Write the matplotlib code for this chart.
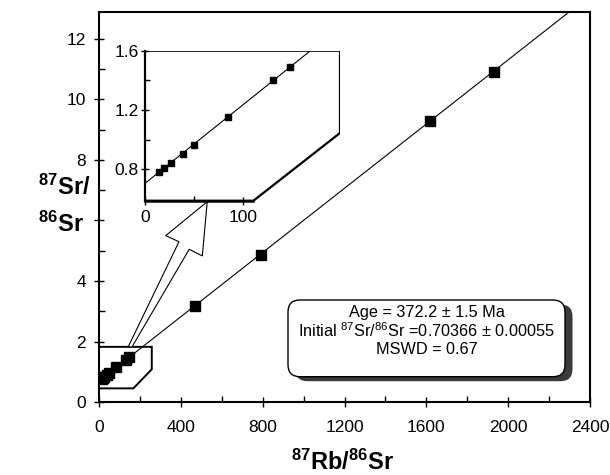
import numpy as np
import matplotlib
matplotlib.use("Agg")
import matplotlib.pyplot as plt
from matplotlib.patches import Polygon, FancyBboxPatch
from matplotlib.transforms import Affine2D

plt.rcParams['font.family'] = ['Liberation Sans', 'DejaVu Sans']
plt.rcParams['mathtext.fontset'] = 'custom'
plt.rcParams['mathtext.rm'] = 'Liberation Sans'
plt.rcParams['mathtext.bf'] = 'Liberation Sans:bold'

# whole-rock / mineral data (87Rb/86Sr, 87Sr/86Sr)
rb_low = [15, 20, 26.5, 39, 50, 85, 131, 148]
sr_low = [0.780, 0.807, 0.840, 0.903, 0.964, 1.151, 1.403, 1.489]
rb_high = [470, 790, 1620, 1930]
sr_high = [3.17, 4.87, 9.27, 10.90]

age_ma = 372.2
sr_init = 0.70366
lam = 1.42e-11
slope = np.exp(lam * age_ma * 1e6) - 1

ytick_vals = [0, 2, 4, 6, 8, 10, 12]
ytick_labels = ['0', '2', '4', '', '8', '10', '12']   # "6" is hidden behind the axis title

W, H = 610, 475
fig = plt.figure(figsize=(W / 100, H / 100), dpi=100)
# helper: image pixel coords (y down) -> figure
px = Affine2D().scale(1 / W, -1 / H).translate(0, 1) + fig.transFigure

ax = fig.add_axes([99 / W, 1 - 402.3 / H, 491 / W, 390 / H])
ax.set_xlim(0, 2400)
ax.set_ylim(0, 12.87)
xx = np.array([0, 2400])
ax.plot(xx, sr_init + slope * xx, color='black', lw=0.8, zorder=2)
ax.plot(rb_low + rb_high, sr_low + sr_high, 's', color='black', ms=6.5, zorder=3)

ax.set_xticks(np.arange(0, 2401, 400))
ax.set_yticks(ytick_vals)
ax.set_yticklabels(ytick_labels)
ax.set_xticks(np.arange(200, 2400, 400), minor=True)
ax.set_yticks(np.arange(1, 13, 2), minor=True)
ax.tick_params(which='major', direction='inout', length=7, width=1, labelsize=12.5)
ax.tick_params(which='minor', direction='in', length=4, width=1)
ax.tick_params(axis='x', pad=9)
ax.tick_params(axis='y', pad=6)
for s in ax.spines.values():
    s.set_linewidth(1.5)

# zoom region outline on main plot
zoom_box = Polygon([(0, 1.83), (258, 1.83), (258, 1.09), (168, 0.46), (0, 0.46)],
                   closed=True, fill=False, edgecolor='black', lw=1.4, zorder=4)
ax.add_patch(zoom_box)

# hollow arrow pointing to inset
arrow = Polygon([(143, 1.835), (391, 5.30), (326, 5.50), (529, 6.62),
                 (505, 4.83), (441, 5.05), (161, 1.825)],
                closed=True, facecolor='white', edgecolor='black', lw=0.8, zorder=4)
ax.add_patch(arrow)

# inset
ins = fig.add_axes([144.7 / W, 1 - 200.7 / H, 195.3 / W, 150 / H])
ins.set_xlim(0, 199.3)
ins.set_ylim(0.588, 1.6)
ins.patch.set_visible(False)
frame = Polygon([(0, 1.6), (199.3, 1.6), (199.3, 1.045), (111, 0.588), (0, 0.588)],
                closed=True, facecolor='white', edgecolor='black', lw=1.6, zorder=0)
ins.add_patch(frame)
ix = np.array([0, 200])
l1, = ins.plot(ix, sr_init + slope * ix, color='black', lw=0.8, zorder=2)
l2, = ins.plot(rb_low, sr_low, 's', color='black', ms=4, zorder=3)
l1.set_clip_path(frame)
ins.spines['top'].set_visible(False)
ins.spines['right'].set_visible(False)
ins.spines['left'].set_linewidth(1.6)
ins.spines['bottom'].set_linewidth(1.8)
ins.spines['bottom'].set_bounds(0, 111)
ins.set_xticks([0, 100])
ins.set_xticks([50], minor=True)
ins.set_yticks([0.8, 1.2, 1.6])
ins.set_yticklabels(['0.8', '1.2', '1.6'])
ins.set_yticks([1.0, 1.4], minor=True)
ins.tick_params(which='major', direction='inout', length=6, width=1, labelsize=12.5)
ins.tick_params(which='minor', direction='in', length=3.5, width=1)
ins.tick_params(axis='x', pad=4)
ins.tick_params(axis='y', pad=1.5)

# result box with shadow
bx, by, bw, bh = 288, 300, 277, 76.7
shadow = FancyBboxPatch((bx + 7.5, by + 4.5), bw, bh, boxstyle='round,pad=0,rounding_size=12',
                        transform=px, facecolor='#3a3a3a', edgecolor='none', zorder=5)
box = FancyBboxPatch((bx, by), bw, bh, boxstyle='round,pad=0,rounding_size=12',
                     transform=px, facecolor='white', edgecolor='black', lw=1.0, zorder=6)
fig.add_artist(shadow)
fig.add_artist(box)
lines = ['Age = 372.2 \u00b1 1.5 Ma',
         'Initial $^{87}$Sr/$^{86}$Sr =0.70366 \u00b1 0.00055',
         'MSWD = 0.67']
for i, t in enumerate(lines):
    fig.text(426.5, 312 + 19 * i, t, transform=px, ha='center', va='center',
             fontsize=11.7, zorder=7)

# axis labels
fig.text(343, 462, r'$\mathbf{^{87}Rb/^{86}Sr}$', transform=px, ha='center',
         va='center', fontsize=17)
fig.text(38, 187, r'$\mathbf{^{87}Sr/}$', transform=px, ha='left', va='center', fontsize=17)
fig.text(38, 224, r'$\mathbf{^{86}Sr}$', transform=px, ha='left', va='center', fontsize=17)

fig.savefig('out.png', dpi=100)
